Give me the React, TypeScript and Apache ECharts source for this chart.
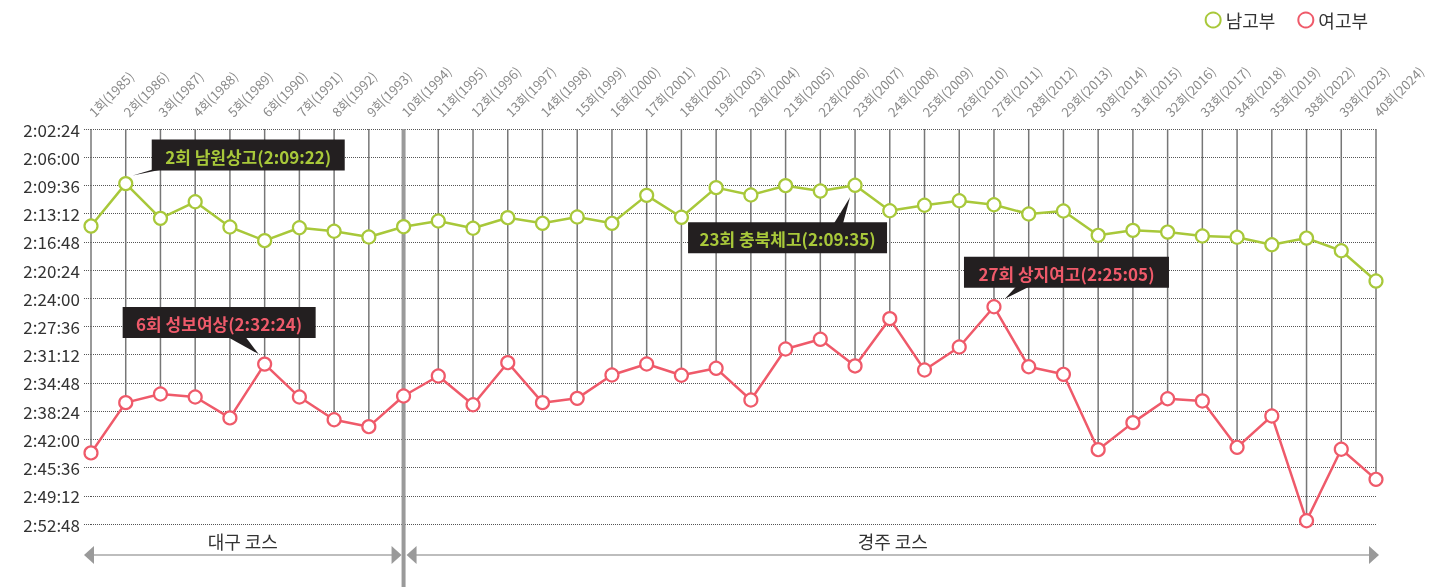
import React, { useEffect, useRef } from "react";
import * as echarts from "echarts";

const categories = [
  "1회(1985)", "2회(1986)", "3회(1987)", "4회(1988)", "5회(1989)", "6회(1990)", "7회(1991)",
  "8회(1992)", "9회(1993)", "10회(1994)", "11회(1995)", "12회(1996)", "13회(1997)", "14회(1998)",
  "15회(1999)", "16회(2000)", "17회(2001)", "18회(2002)", "19회(2003)", "20회(2004)", "21회(2005)",
  "22회(2006)", "23회(2007)", "24회(2008)", "25회(2009)", "26회(2010)", "27회(2011)", "28회(2012)",
  "29회(2013)", "30회(2014)", "31회(2015)", "32회(2016)", "33회(2017)", "34회(2018)", "35회(2019)",
  "38회(2022)", "39회(2023)", "40회(2024)",
];

const maleTimes = [
  "2:14:47", "2:09:22", "2:13:48", "2:11:41", "2:14:54", "2:16:39", "2:15:00",
  "2:15:27", "2:16:11", "2:14:52", "2:14:08", "2:15:04", "2:13:43", "2:14:26",
  "2:13:38", "2:14:26", "2:10:52", "2:13:40", "2:09:53", "2:10:49", "2:09:38",
  "2:10:19", "2:09:35", "2:12:50", "2:12:08", "2:11:33", "2:12:04", "2:13:15",
  "2:12:52", "2:15:58", "2:15:20", "2:15:33", "2:16:03", "2:16:13", "2:17:10",
  "2:16:19", "2:17:56", "2:21:48",
];

const femaleTimes = [
  "2:43:44", "2:37:19", "2:36:13", "2:36:36", "2:39:16", "2:32:24", "2:36:36",
  "2:39:30", "2:40:23", "2:36:28", "2:33:55", "2:37:35", "2:32:13", "2:37:19",
  "2:36:46", "2:33:47", "2:32:23", "2:33:49", "2:32:56", "2:36:59", "2:30:28",
  "2:29:14", "2:32:38", "2:26:36", "2:33:09", "2:30:13", "2:25:05", "2:32:44",
  "2:33:42", "2:43:19", "2:39:52", "2:36:49", "2:37:06", "2:43:01", "2:39:01",
  "2:52:23", "2:43:16", "2:47:06",
];

const yMinTime = "2:02:24";
const yMaxTime = "2:52:48";
const yStepTime = "0:03:36";

const seriesNames = ["남고부", "여고부"];

const annotations = [
  { series: 0, index: 1, text: "2회 남원상고(2:09:22)" },
  { series: 1, index: 5, text: "6회 성보여상(2:32:24)" },
  { series: 0, index: 22, text: "23회 충북체고(2:09:35)" },
  { series: 1, index: 26, text: "27회 상지여고(2:25:05)" },
];

const courses = [
  { name: "대구 코스", from: 0, to: 9 },
  { name: "경주 코스", from: 9, to: 37 },
];

// layout for annotation boxes (relative to the annotated point)
const annLayout = [
  { bx: 26, by: -44, w: 193, tip: [7, -8], base: [27, 36], edge: "bottom" },
  { bx: -142, by: -57, w: 193, tip: [-6, -10], base: [-37, -19], edge: "bottom" },
  { bx: -167, by: 37, w: 199, tip: [-5, 12], base: [-21, -12], edge: "top" },
  { bx: -30, by: -50, w: 205, tip: [11, -8], base: [22, 35], edge: "bottom" },
];

const GREEN = "#a8c83a";
const RED = "#ef5a6a";
const FONT = "'Noto Sans CJK KR', 'Noto Sans', sans-serif";

const toSec = (t: string) => {
  const [h, m, s] = t.split(":").map(Number);
  return h * 3600 + m * 60 + s;
};
const fmt = (v: number) => {
  const h = Math.floor(v / 3600);
  const m = Math.floor((v % 3600) / 60);
  const s = Math.round(v % 60);
  return `${h}:${String(m).padStart(2, "0")}:${String(s).padStart(2, "0")}`;
};

export default function App() {
  const ref = useRef<HTMLDivElement>(null);
  useEffect(() => {
    if (!ref.current) return;
    const chart = echarts.init(ref.current, null, { renderer: "svg" });
    const male = maleTimes.map(toSec);
    const female = femaleTimes.map(toSec);
    const yMin = toSec(yMinTime);
    const yMax = toSec(yMaxTime);
    const step = toSec(yStepTime);
    const colors = [GREEN, RED];

    const lineSeries = (name: string, data: number[], color: string) => ({
      name,
      type: "line",
      data,
      z: 3,
      symbol: "circle",
      symbolSize: 13,
      itemStyle: { color: "#fff", borderColor: color, borderWidth: 2.2 },
      lineStyle: { color, width: 2.5 },
      emphasis: { disabled: true },
    });

    chart.setOption({
      animation: false,
      textStyle: { fontFamily: FONT },
      legend: {
        data: seriesNames,
        right: 56,
        top: 6,
        itemGap: 22,
        itemWidth: 15,
        itemHeight: 15,
        icon: "circle",
        textStyle: { fontSize: 18, color: "#333", fontFamily: FONT },
      },
      grid: { left: 91, right: 53, top: 129, bottom: 63, containLabel: false, outerBoundsMode: "none" },
      xAxis: {
        type: "category",
        position: "top",
        boundaryGap: false,
        data: categories,
        axisLine: { show: false },
        axisTick: { show: false },
        axisLabel: { rotate: -45, interval: 0, color: "#8a8a8a", fontSize: 13, margin: 15, fontFamily: FONT },
        splitLine: { show: false },
      },
      yAxis: {
        type: "value",
        inverse: true,
        min: yMin,
        max: yMax,
        interval: step,
        axisLine: { show: false },
        axisTick: { show: true, length: 8, lineStyle: { color: "#555", type: [1, 1] } },
        axisLabel: { formatter: (v: number) => fmt(v), color: "#333", fontSize: 17, margin: 11, fontFamily: FONT },
        splitLine: { show: true, lineStyle: { color: "#555", type: [1, 1], width: 1 } },
      },
      series: [
        lineSeries(seriesNames[0], male, GREEN),
        lineSeries(seriesNames[1], female, RED),
        {
          type: "custom",
          z: 1,
          silent: true,
          data: female.map((v, i) => [i, v]),
          renderItem: (params: any, api: any) => {
            const i = api.value(0);
            const v = api.value(1);
            const top = api.coord([i, yMin]);
            const bot = api.coord([i, v]);
            return {
              type: "line",
              shape: { x1: top[0], y1: top[1], x2: bot[0], y2: bot[1] },
              style: { stroke: "#777", lineWidth: 1.5 },
            };
          },
        },
      ],
    });

    const px = (s: number, i: number, v: number) =>
      chart.convertToPixel({ seriesIndex: s }, [i, v]) as number[];
    const topY = px(0, 0, yMin)[1];
    const botY = px(0, 0, yMax)[1];
    const graphics: any[] = [];

    courses.forEach((c, ci) => {
      const x1 = px(0, c.from, yMin)[0];
      const x2 = px(0, c.to, yMin)[0];
      const left = ci === 0 ? x1 - 7 : x1 + 3;
      const right = ci === 0 ? x2 - 2 : x2 + 3;
      const ay = botY + 31;
      graphics.push({
        type: "line", z: 5, silent: true,
        shape: { x1: left + 6, y1: ay, x2: right - 6, y2: ay },
        style: { stroke: "#bdbdbd", lineWidth: 2 },
      });
      graphics.push({
        type: "polygon", z: 5, silent: true,
        shape: { points: [[left, ay], [left + 10, ay - 9], [left + 10, ay + 9]] },
        style: { fill: "#9a9a9a" },
      });
      graphics.push({
        type: "polygon", z: 5, silent: true,
        shape: { points: [[right, ay], [right - 10, ay - 9], [right - 10, ay + 9]] },
        style: { fill: "#9a9a9a" },
      });
      graphics.push({
        type: "text", z: 5, silent: true,
        x: (left + right) / 2, y: botY + 17,
        style: { text: c.name, fill: "#333", fontSize: 18, fontFamily: FONT, align: "center", verticalAlign: "middle" },
      });
      if (ci > 0) {
        graphics.push({
          type: "line", z: 2, silent: true,
          shape: { x1: x1, y1: topY, x2: x1, y2: 587 },
          style: { stroke: "#9a9a9a", lineWidth: 4 },
        });
      }
    });

    annotations.forEach((a, k) => {
      const L = annLayout[k];
      const data = a.series === 0 ? male : female;
      const p = px(a.series, a.index, data[a.index]);
      const bx = p[0] + L.bx;
      const by = p[1] + L.by;
      const h = 31;
      const ey = L.edge === "bottom" ? by + h - 1 : by + 1;
      graphics.push({
        type: "polygon", z: 20, silent: true,
        shape: { points: [[p[0] + L.base[0], ey], [p[0] + L.base[1], ey], [p[0] + L.tip[0], p[1] + L.tip[1]]] },
        style: { fill: "#231f20" },
      });
      graphics.push({
        type: "rect", z: 20, silent: true,
        shape: { x: bx, y: by, width: L.w, height: h },
        style: { fill: "#231f20" },
      });
      graphics.push({
        type: "text", z: 21, silent: true,
        x: bx + L.w / 2, y: by + h / 2 + 1,
        style: {
          text: a.text, fill: colors[a.series], fontSize: 17, fontWeight: "bold", fontFamily: FONT,
          align: "center", verticalAlign: "middle",
        },
      });
    });

    chart.setOption({ graphic: graphics });
    return () => chart.dispose();
  }, []);
  return <div ref={ref} style={{ position: "fixed", left: 0, top: 0, width: 1429, height: 587 }} />;
}
